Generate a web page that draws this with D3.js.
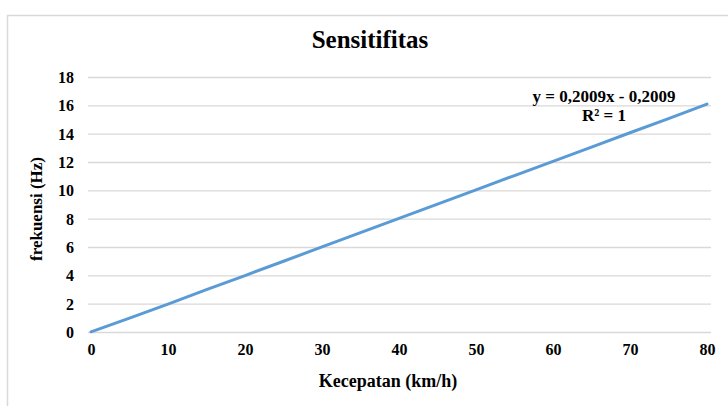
<!DOCTYPE html>
<html>
<head>
<meta charset="utf-8">
<script src="https://cdn.jsdelivr.net/npm/d3@7"></script>
<style>
  body { margin: 0; background: #fff; }
  svg text { font-family: "Liberation Serif", "Times New Roman", Tinos, "DejaVu Serif", serif !important; font-weight: bold; fill: #000; }
</style>
</head>
<body>
<svg id="svg" width="728" height="406"></svg>
<script>
// data
var speeds = [0, 5, 10, 15, 20, 25, 30, 35, 40, 45, 50, 55, 60, 65, 70, 75, 80];
var freqs = [0.05, 1.02, 2.0, 3.03, 4.02, 5.03, 6.04, 7.05, 8.05, 9.06, 10.07, 11.08, 12.08, 13.08, 14.1, 15.1, 16.12];
var xTicks = [0, 10, 20, 30, 40, 50, 60, 70, 80];
var yTicks = [0, 2, 4, 6, 8, 10, 12, 14, 16, 18];

var svg = d3.select('svg');

// chart border
svg.append('rect')
    .attr('x', 7.5).attr('y', 15.5)
    .attr('width', 740).attr('height', 420)
    .attr('fill', 'white')
    .attr('stroke', '#d9d9d9')
    .attr('stroke-width', 1.5);

var x = d3.scaleLinear().domain([0, 80]).range([91, 707]);
var y = d3.scaleLinear().domain([0, 18]).range([332.5, 77.5]);

// gridlines
svg.append('g')
    .selectAll('line')
    .data(yTicks)
    .enter()
    .append('line')
    .attr('x1', 88).attr('x2', 711)
    .attr('y1', function(d){ return y(d); })
    .attr('y2', function(d){ return y(d); })
    .attr('stroke', '#d9d9d9')
    .attr('stroke-width', 1.3);

// y axis labels
var yAxis = d3.axisLeft(y).tickValues(yTicks).tickSize(0).tickPadding(0);
svg.append('g')
    .attr('transform', 'translate(74,0)')
    .call(yAxis)
    .call(function(g){ g.select('.domain').remove(); })
    .selectAll('text')
    .attr('font-size', 16);

// x axis labels
var xAxis = d3.axisBottom(x).tickValues(xTicks).tickSize(0).tickPadding(0);
svg.append('g')
    .attr('transform', 'translate(0,344)')
    .call(xAxis)
    .call(function(g){ g.select('.domain').remove(); })
    .selectAll('text')
    .attr('font-size', 16);

// the line
var line = d3.line()
    .x(function(d, i){ return x(speeds[i]); })
    .y(function(d){ return y(d); });

svg.append('path')
    .datum(freqs)
    .attr('d', line)
    .attr('fill', 'none')
    .attr('stroke', '#5b9bd5')
    .attr('stroke-width', 3)
    .attr('stroke-linecap', 'round');

// title
svg.append('text')
    .attr('x', 370).attr('y', 48)
    .attr('text-anchor', 'middle')
    .attr('font-size', 25)
    .text('Sensitifitas');

// axis titles
svg.append('text')
    .attr('x', 388).attr('y', 387)
    .attr('text-anchor', 'middle')
    .attr('font-size', 18)
    .text('Kecepatan (km/h)');

svg.append('text')
    .attr('transform', 'translate(42,209) rotate(-90)')
    .attr('text-anchor', 'middle')
    .attr('font-size', 17)
    .text('frekuensi  (Hz)');

// trendline label
svg.append('text')
    .attr('x', 604).attr('y', 102)
    .attr('text-anchor', 'middle')
    .attr('font-size', 17)
    .text('y = 0,2009x - 0,2009');

svg.append('text')
    .attr('x', 604).attr('y', 121)
    .attr('text-anchor', 'middle')
    .attr('font-size', 17)
    .text('R² = 1');
</script>
</body>
</html>
